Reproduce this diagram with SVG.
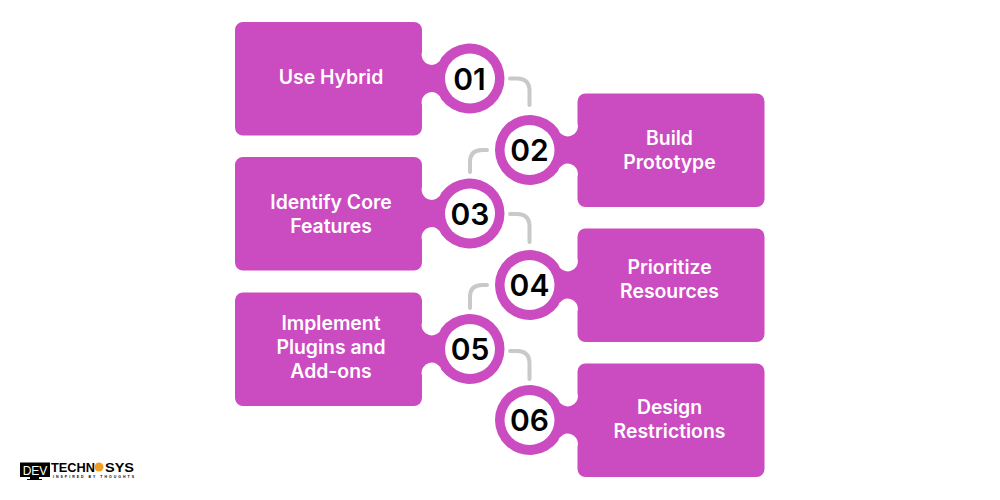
<svg xmlns="http://www.w3.org/2000/svg" width="1000" height="500" viewBox="0 0 1000 500">
<style>
.shape{fill:#cb4bc0}
.hole{fill:#fff}
.lbl{font-family:"Inter","Liberation Sans",sans-serif;font-weight:600;font-size:19.4px;fill:#fff;text-anchor:middle}
.num{font-family:"Inter","Liberation Sans",sans-serif;font-weight:600;font-size:30px;fill:#000;text-anchor:middle}
.conn{fill:none;stroke:#c9c9c9;stroke-width:4;stroke-linecap:round}
.logo{font-family:"Liberation Sans",sans-serif;font-weight:700;fill:#000}
</style>
<defs>
<path id="tab" d="M243,22H414a8,8 0 0 1 8,8V52A10,10 0 0 0 441.5,57.500A35,35 0 1 1 441.5,99.500A10,10 0 0 0 422,105V127.500a8,8 0 0 1 -8,8H243a8,8 0 0 1 -8,-8V30a8,8 0 0 1 8,-8Z"/>
</defs>
<rect width="1000" height="500" fill="#fff"/>
<g id="connectors">
<path class="conn" d="M510,78.500H517Q529.500,78.500 529.500,91V105"/>
<path class="conn" d="M487,150H482Q470,150 470,162V172"/>
<path class="conn" d="M510,214H517Q529.500,214 529.500,226.500V242"/>
<path class="conn" d="M487,285H482Q470,285 470,297V308"/>
<path class="conn" d="M510,351H517Q529.500,351 529.500,363.500V379"/>
</g>
<g id="node-01">
<use href="#tab" class="shape"/>
<circle class="hole" cx="470" cy="78.500" r="25"/>
<text class="num" x="469.500" y="89.500">01</text>
<text class="lbl" x="331" y="84">Use Hybrid</text>
</g>
<g id="node-02">
<use href="#tab" class="shape" transform="matrix(-1 0 0 1 999.500 71.500)"/>
<circle class="hole" cx="529.500" cy="150" r="25"/>
<text class="num" x="529.500" y="160.500">02</text>
<text class="lbl" x="669.500" y="145">Build</text>
<text class="lbl" x="669.500" y="169">Prototype</text>
</g>
<g id="node-03">
<use href="#tab" class="shape" transform="translate(0 135)"/>
<circle class="hole" cx="470" cy="213.500" r="25"/>
<text class="num" x="470" y="225">03</text>
<text class="lbl" x="331" y="209">Identify Core</text>
<text class="lbl" x="331" y="233">Features</text>
</g>
<g id="node-04">
<use href="#tab" class="shape" transform="matrix(-1 0 0 1 999.500 206.500)"/>
<circle class="hole" cx="529.500" cy="285" r="25"/>
<text class="num" x="529.500" y="295.500">04</text>
<text class="lbl" x="669.500" y="274">Prioritize</text>
<text class="lbl" x="669.500" y="298">Resources</text>
</g>
<g id="node-05">
<use href="#tab" class="shape" transform="translate(0 270.500)"/>
<circle class="hole" cx="470" cy="349" r="25"/>
<text class="num" x="470" y="360">05</text>
<text class="lbl" x="331" y="330">Implement</text>
<text class="lbl" x="331" y="354">Plugins and</text>
<text class="lbl" x="331" y="378">Add-ons</text>
</g>
<g id="node-06">
<use href="#tab" class="shape" transform="matrix(-1 0 0 1 999.500 341.500)"/>
<circle class="hole" cx="529.500" cy="420" r="25"/>
<text class="num" x="529.500" y="431">06</text>
<text class="lbl" x="669.500" y="414">Design</text>
<text class="lbl" x="669.500" y="438">Restrictions</text>
</g>
<g id="logo">
<rect x="20" y="462.500" width="30" height="14.500" fill="#000"/>
<path d="M30,477h9v2h3v1h-15v-1h3Z" fill="#000"/>
<text x="35" y="474.500" font-family="Liberation Sans,sans-serif" font-weight="400" font-size="12" fill="#fff" text-anchor="middle">DEV</text>
<text class="logo" x="51" y="472" font-size="12" textLength="44" lengthAdjust="spacingAndGlyphs">TECHN</text>
<circle cx="99" cy="467" r="4.500" fill="#f39c1f"/>
<text class="logo" x="105" y="472" font-size="12" textLength="29" lengthAdjust="spacingAndGlyphs">SYS</text>
<text class="logo" x="53" y="478" font-size="3.500" textLength="81">INSPIRED BY THOUGHTS</text>
</g>
</svg>
